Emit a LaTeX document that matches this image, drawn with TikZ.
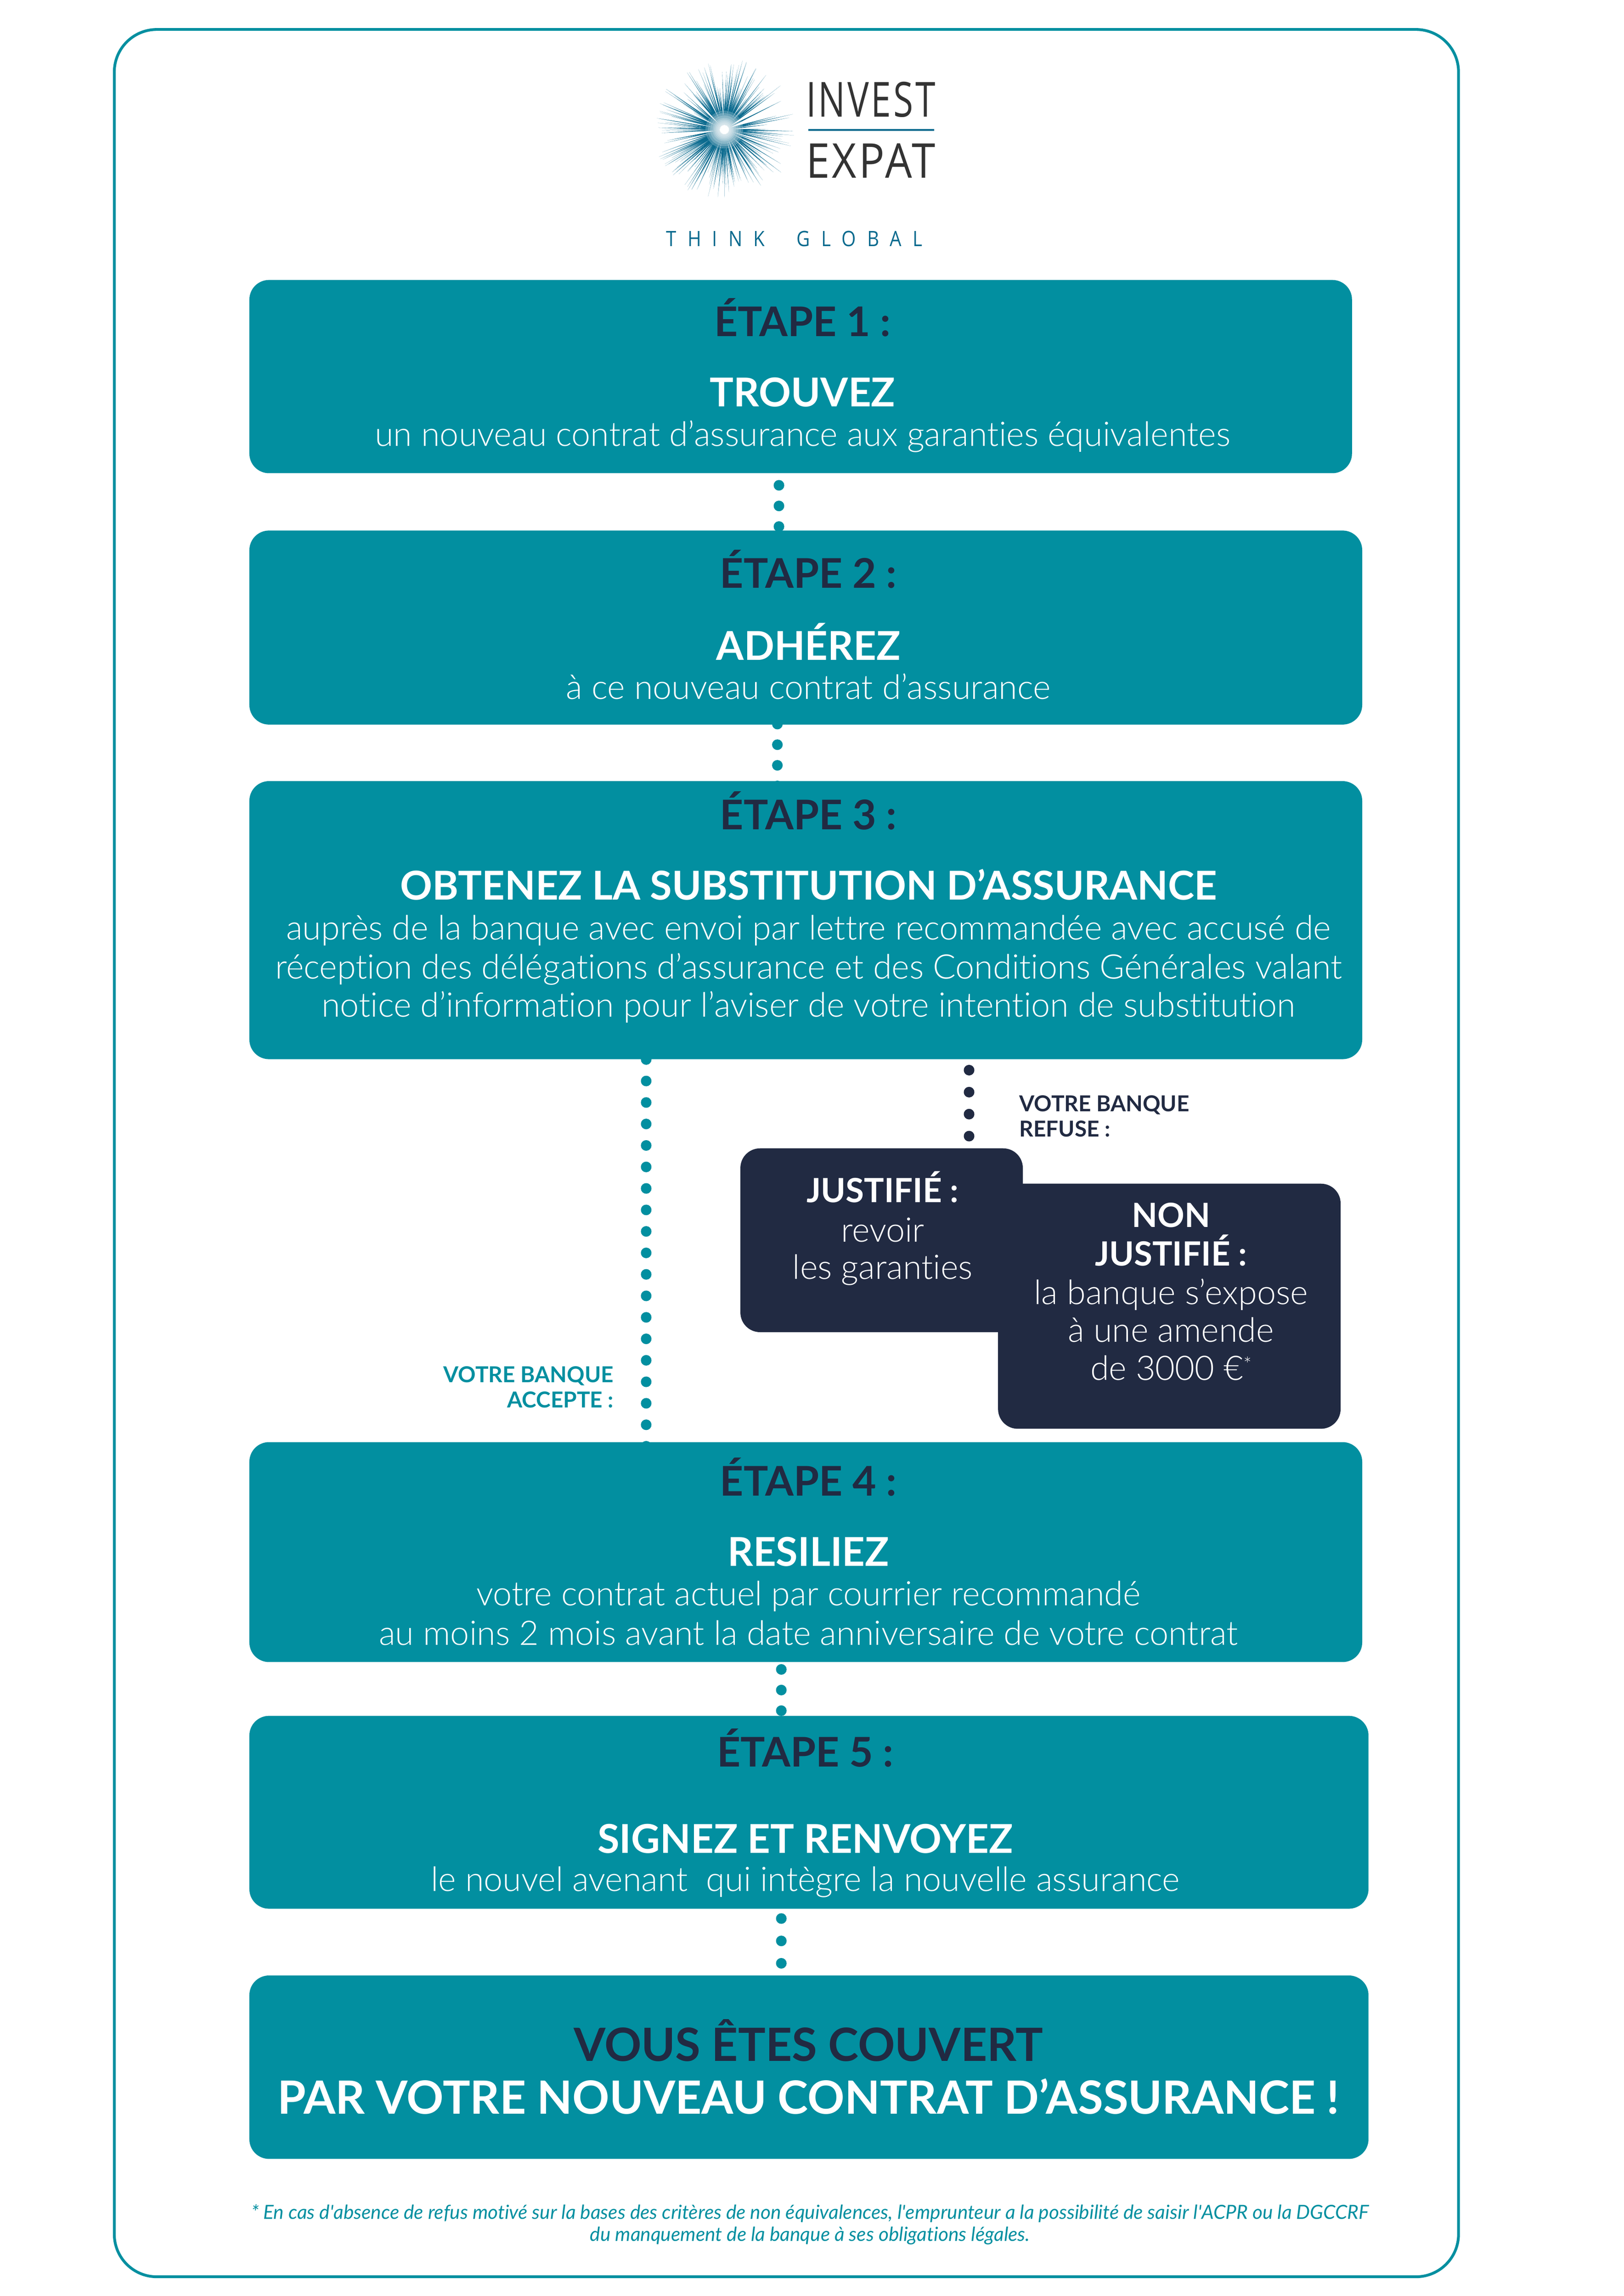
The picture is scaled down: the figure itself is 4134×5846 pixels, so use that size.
\documentclass[tikz,border=0pt]{standalone}
\usepackage{fontspec}
\usetikzlibrary{backgrounds}
\setmainfont[Ligatures={TeX,NoCommon}]{Lato}
\newfontfamily\lightf[Ligatures={TeX,NoCommon}]{Lato Light}
\newfontfamily\logof[LetterSpace=6]{Open Sans}
\newfontfamily\logog[LetterSpace=60]{Open Sans}
\definecolor{teal1}{HTML}{028FA0}
\definecolor{navy1}{HTML}{212A42}
\definecolor{logoblue}{HTML}{0A6A8E}
\definecolor{logodark}{HTML}{333333}
\tikzset{
  x=0.24pt,y=-0.24pt,
  box/.style={draw=none,fill=teal1,rounded corners=12pt,inner sep=0pt},
  navybox/.style={draw=none,fill=navy1,rounded corners=12pt,inner sep=0pt},
  tx/.style={anchor=base,inner sep=0pt,outer sep=0pt,align=center,yshift=-0.6pt},
  head/.style={tx,text=navy1,font=\bfseries\fontsize{25}{30}\selectfont},
  title/.style={tx,text=white,font=\bfseries\fontsize{24.3}{29}\selectfont},
  body/.style={tx,text=white,font=\lightf\fontsize{20.7}{25}\selectfont},
  small/.style={tx,font=\bfseries\fontsize{13.4}{16}\selectfont},
  foot/.style={tx,text=teal1,font=\itshape\fontsize{11.9}{14}\selectfont},
  tealdots/.style={teal1,line width=6.5pt,line cap=round,dash pattern=on 0pt off #1},
  navydots/.style={navy1,line width=6.5pt,line cap=round,dash pattern=on 0pt off #1},
  logotx/.style={anchor=north west,inner sep=0pt,outer sep=0pt},
}
\newcommand{\boxat}[6][box]{\node[#1,anchor=north west,minimum width=#4*0.24pt-#2*0.24pt,minimum height=#5*0.24pt-#3*0.24pt] (#6) at (#2,#3) {};}
\begin{document}
\begin{tikzpicture}
\useasboundingbox (0,0) rectangle (4134,5846);
% outer frame
\draw[teal1,line width=1.7pt,rounded corners=26pt] (291,75) rectangle (3713,5797);
% logo
\pgfmathsetseed{4217}
\foreach \i in {1,...,270}{
  \pgfmathsetmacro\ang{rnd*360}
  \pgfmathsetmacro\rad{85+rnd*97}
  \pgfmathsetmacro\wid{0.6+rnd*1.2}
  \fill[logoblue,shift={(1844,330)},rotate=\ang] (12,-\wid) -- (\rad,0) -- (12,\wid) -- cycle;
}
\foreach \rr in {6,10,14,18,22,26,30,36,42,48}{\fill[white,opacity=0.22] (1844,330) circle[radius=\rr];}
\node[logotx,text=logodark] (invest) at (2052,208) {\resizebox{79pt}{21.4pt}{\logof INVEST}};
\node[logotx,text=logodark] (expat) at (2052,366) {\resizebox{79pt}{21pt}{\logof EXPAT}};
\fill[logoblue] (2058,328) rectangle (2378,333);
\node[logotx,text=logoblue] (think) at (1696,588) {\resizebox{156.5pt}{9.4pt}{\logog THINK\ \ GLOBAL}};
% boxes
\boxat{634}{712}{3441}{1204}{b1}
\boxat{634}{1350}{3467}{1844}{b2}
\boxat{634}{1988}{3467}{2696}{b3}
\boxat{634}{3671}{3467}{4231}{b4}
\boxat{634}{4368}{3483}{4859}{b5}
\boxat{634}{5029}{3483}{5496}{b6}
\boxat[navybox]{1884}{2923}{2603}{3391}{bj}
\boxat[navybox]{2540}{3013}{3412}{3637}{bn}
% connector anchors
\coordinate (x12) at (1983,0);
\coordinate (x23) at (1979,0);
\coordinate (xacc) at (1645,0);
\coordinate (xref) at (2467,0);
\coordinate (x45) at (1989,0);
\coordinate (x56) at (1989,0);
\begin{scope}[on background layer]
\draw[tealdots=12.6pt,shorten <=7.2pt] (x12 |- b1.south) -- (x12 |- b2.north);
\draw[tealdots=12.6pt,shorten <=-0.5pt,shorten >=-3.2pt] (x23 |- b2.south) -- (x23 |- b3.north);
\draw[tealdots=13.13pt,shorten >=-4pt] (xacc |- b3.south) -- (xacc |- b4.north);
\draw[navydots=13.44pt,shorten <=6.5pt] (xref |- b3.south) -- (xref |- bj.north);
\draw[tealdots=12.6pt,shorten <=4.3pt] (x45 |- b4.south) -- (x45 |- b5.north);
\draw[tealdots=13.68pt,shorten <=5.8pt] (x56 |- b5.south) -- (x56 |- b6.north);
\end{scope}
% box 1
\node[head] (t1a) at (2043,854) {ÉTAPE 1 :};
\node[title] (t1b) at (2043,1033) {TROUVEZ};
\node[body] (t1c) at (2043,1133) {un nouveau contrat d’assurance aux garanties équivalentes};
% box 2
\node[head] (t2a) at (2058,1495) {ÉTAPE 2 :};
\node[title] (t2b) at (2058,1678) {ADHÉREZ};
\node[body] (t2c) at (2058,1778) {à ce nouveau contrat d’assurance};
% box 3
\node[head] (t3a) at (2058,2110) {ÉTAPE 3 :};
\node[title] (t3b) at (2058,2289) {OBTENEZ LA SUBSTITUTION D’ASSURANCE};
\node[body] (t3c) at (2058,2390) {auprès de la banque avec envoi par lettre recommandée avec accusé de};
\node[body] (t3d) at (2058,2490) {réception des délégations d’assurance et des Conditions Générales valant};
\node[body] (t3e) at (2058,2587) {notice d’information pour l’aviser de votre intention de substitution};
% refuse / accept labels
\node[small,text=navy1,anchor=base west] (lr1) at (2595,2827) {VOTRE BANQUE};
\node[small,text=navy1,anchor=base west] (lr2) at (2595,2892) {REFUSE :};
\node[small,text=teal1,anchor=base east] (la1) at (1562,3517) {VOTRE BANQUE};
\node[small,text=teal1,anchor=base east] (la2) at (1562,3582) {ACCEPTE :};
% justifie
\node[title] (j1) at (2247,3059) {\fontsize{20.4}{25}\selectfont JUSTIFIÉ :};
\node[body] (j2) at (2247,3159) {revoir};
\node[body] (j3) at (2247,3254) {les garanties};
\node[title] (n1) at (2981,3122) {\fontsize{20.4}{25}\selectfont NON};
\node[title] (n2) at (2981,3220) {\fontsize{20.4}{25}\selectfont JUSTIFIÉ :};
\node[body] (n3) at (2981,3319) {la banque s’expose};
\node[body] (n4) at (2981,3415) {à une amende};
\node[body] (n5) at (2981,3511) {de 3000 €\raisebox{0.5ex}{\fontsize{12}{12}\selectfont *}};
% box 4
\node[head] (t4a) at (2058,3806) {ÉTAPE 4 :};
\node[title] (t4b) at (2058,3985) {RESILIEZ};
\node[body] (t4c) at (2058,4086) {votre contrat actuel par courrier recommandé};
\node[body] (t4d) at (2058,4186) {au moins 2 mois avant la date anniversaire de votre contrat};
% box 5
\node[head] (t5a) at (2050,4496) {ÉTAPE 5 :};
\node[title] (t5b) at (2050,4716) {SIGNEZ ET RENVOYEZ};
\node[body] (t5c) at (2050,4813) {le nouvel avenant\ \ qui intègre la nouvelle assurance};
% box 6
\node[head,font=\bfseries\fontsize{28}{34}\selectfont] (t6a) at (2058,5245) {VOUS ÊTES COUVERT};
\node[title,font=\bfseries\fontsize{28}{34}\selectfont] (t6b) at (2058,5380) {PAR VOTRE NOUVEAU CONTRAT D’ASSURANCE !};
% footnote
\node[foot] (f1) at (2062,5648) {* En cas d\textquotesingle absence de refus motivé sur la bases des critères de non équivalences, l\textquotesingle emprunteur a la possibilité de saisir l\textquotesingle ACPR ou la DGCCRF};
\node[foot] (f2) at (2062,5704) {du manquement de la banque à ses obligations légales.};
\end{tikzpicture}
\end{document}
